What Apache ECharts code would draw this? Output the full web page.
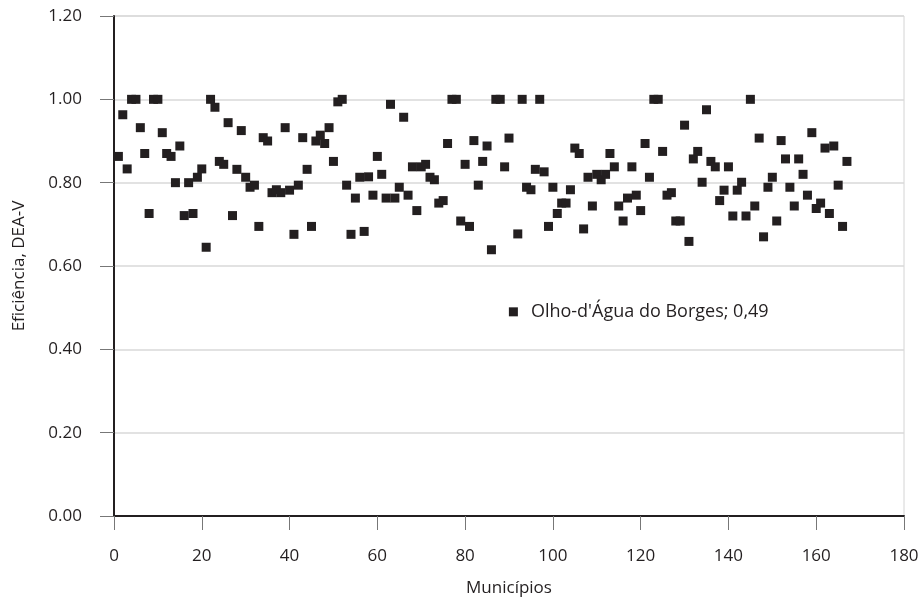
<!DOCTYPE html>
<html>
<head>
<meta charset="utf-8">
<script src="https://cdn.jsdelivr.net/npm/echarts@6/dist/echarts.min.js"></script>
<style>
html,body{margin:0;padding:0;background:#fff;}
#chart{width:918px;height:599px;}
</style>
</head>
<body>
<div id="chart"></div>
<script>
// Municipality index (x) and DEA-V efficiency (y)
const efficiency = [
  0.863,0.963,0.833,1.000,1.000,0.932,0.870,0.726,1.000,1.000,
  0.920,0.870,0.863,0.800,0.888,0.721,0.800,0.726,0.813,0.833,
  0.645,1.000,0.981,0.851,0.844,0.944,0.721,0.832,0.925,0.813,
  0.789,0.794,0.695,0.908,0.900,0.776,0.783,0.776,0.932,0.782,
  0.676,0.794,0.908,0.832,0.695,0.900,0.914,0.894,0.932,0.851,
  0.994,1.000,0.794,0.676,0.763,0.813,0.683,0.814,0.770,0.863,
  0.820,0.763,0.988,0.763,0.789,0.957,0.770,0.838,0.733,0.838,
  0.844,0.813,0.807,0.751,0.757,0.894,1.000,1.000,0.708,0.844,
  0.695,0.901,0.794,0.851,0.888,0.639,1.000,1.000,0.838,0.907,
  0.490,0.677,1.000,0.789,0.783,0.832,1.000,0.826,0.695,0.789,
  0.726,0.751,0.751,0.783,0.883,0.870,0.689,0.813,0.744,0.820,
  0.807,0.820,0.870,0.838,0.744,0.708,0.763,0.838,0.770,0.733,
  0.894,0.813,1.000,1.000,0.875,0.770,0.776,0.708,0.708,0.938,
  0.659,0.857,0.875,0.801,0.975,0.851,0.838,0.757,0.782,0.838,
  0.720,0.782,0.801,0.720,1.000,0.744,0.907,0.670,0.789,0.813,
  0.708,0.901,0.857,0.789,0.744,0.857,0.820,0.770,0.920,0.738,
  0.751,0.883,0.726,0.888,0.794,0.695,0.851
];
const municipios = efficiency.map((_, i) => i + 1);
const annotatedIndex = 91;
const annotationText = "Olho-d'Água do Borges; 0,49";
const xTicks = [0, 20, 40, 60, 80, 100, 120, 140, 160, 180];
const yTicks = [0, 0.2, 0.4, 0.6, 0.8, 1.0, 1.2];

const FONT = "'Open Sans', 'Noto Sans', sans-serif";
const data = municipios.map((m, i) => {
  const d = { value: [m, efficiency[i]] };
  if (m === annotatedIndex) {
    d.label = {
      show: true, position: 'right', distance: 13,
      formatter: annotationText, color: '#231f20', fontSize: 18, fontFamily: FONT
    };
  }
  return d;
});

const chart = echarts.init(document.getElementById('chart'), null, { renderer: 'canvas' });
chart.setOption({
  animation: false,
  backgroundColor: '#ffffff',
  grid: { left: 114, right: 14, top: 16, bottom: 83, outerBoundsMode: 'none', containLabel: false,
    show: true, borderColor: '#d4d4d4', borderWidth: 1 },
  xAxis: {
    type: 'value', min: xTicks[0], max: xTicks[xTicks.length - 1], interval: 20,
    name: 'Municípios', nameLocation: 'middle', nameGap: 64,
    nameTextStyle: { color: '#231f20', fontSize: 17, fontFamily: FONT },
    axisLine: { show: true, onZero: false, lineStyle: { color: '#231f20', width: 2 } },
    axisTick: { show: true, length: 14, lineStyle: { color: '#777' } },
    axisLabel: { margin: 32, color: '#231f20', fontSize: 17, fontFamily: FONT },
    splitLine: { show: false }
  },
  yAxis: {
    type: 'value', min: yTicks[0], max: yTicks[yTicks.length - 1], interval: 0.2,
    name: 'Eficiência, DEA-V', nameLocation: 'middle', nameGap: 86,
    nameTextStyle: { color: '#231f20', fontSize: 17, fontFamily: FONT },
    axisLine: { show: true, onZero: false, lineStyle: { color: '#231f20', width: 2 } },
    axisTick: { show: true, length: 14, lineStyle: { color: '#777' } },
    axisLabel: { margin: 32, color: '#231f20', fontSize: 17, fontFamily: FONT,
      formatter: v => v.toFixed(2) },
    splitLine: { show: true, lineStyle: { color: '#d9d9d9', width: 1.5 } }
  },
  series: [{
    type: 'scatter',
    symbol: 'rect',
    symbolSize: 9,
    itemStyle: { color: '#231f20', opacity: 1 },
    data: data
  }]
});
</script>
</body>
</html>
